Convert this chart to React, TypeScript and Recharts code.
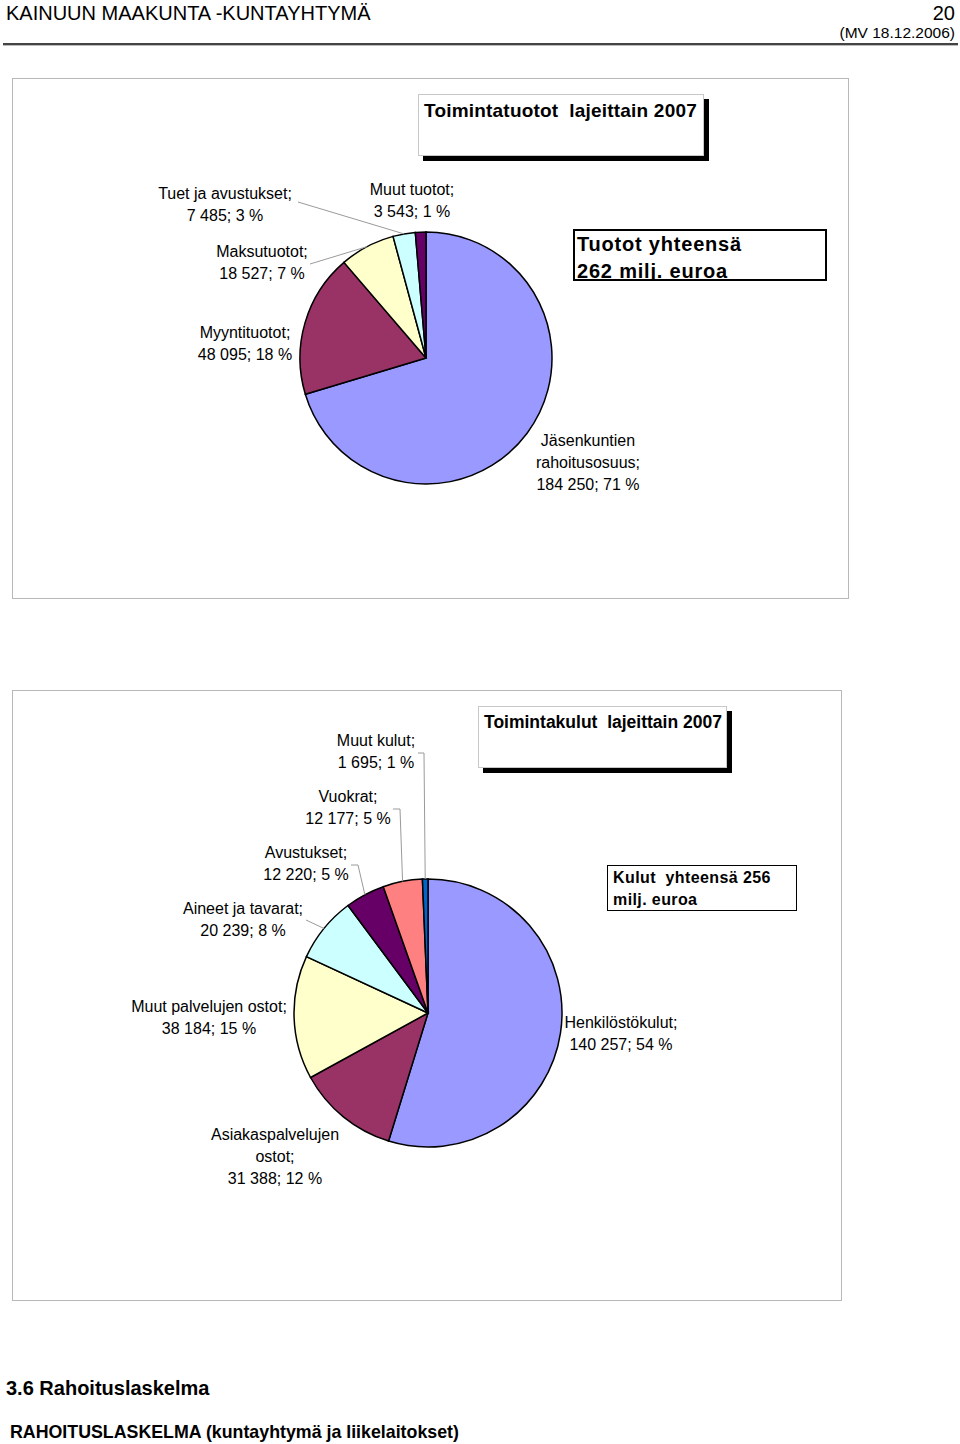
import React from 'react';
import { PieChart, Pie, Cell } from 'recharts';

// ---------- DATA ----------
const incomeNames = ['Jäsenkuntien rahoitusosuus', 'Myyntituotot', 'Maksutuotot', 'Tuet ja avustukset', 'Muut tuotot'];
const incomeNameLines = [['Jäsenkuntien', 'rahoitusosuus;'], ['Myyntituotot;'], ['Maksutuotot;'], ['Tuet ja avustukset;'], ['Muut tuotot;']];
const incomeValues = [184250, 48095, 18527, 7485, 3543];
const incomePercents = [71, 18, 7, 3, 1];
const incomeColors = ['#9999FF', '#993366', '#FFFFCC', '#CCFFFF', '#660066'];

const costNames = ['Henkilöstökulut', 'Asiakaspalvelujen ostot', 'Muut palvelujen ostot', 'Aineet ja tavarat', 'Avustukset', 'Vuokrat', 'Muut kulut'];
const costNameLines = [['Henkilöstökulut;'], ['Asiakaspalvelujen', 'ostot;'], ['Muut palvelujen ostot;'], ['Aineet ja tavarat;'], ['Avustukset;'], ['Vuokrat;'], ['Muut kulut;']];
const costValues = [140257, 31388, 38184, 20239, 12220, 12177, 1695];
const costPercents = [54, 12, 15, 8, 5, 5, 1];
const costColors = ['#9999FF', '#993366', '#FFFFCC', '#CCFFFF', '#660066', '#FF8080', '#0066CC'];

// ---------- LAYOUT (label placement, not data) ----------
type LabelPos = { x: number; y: number; leader?: number[][] };
const incomeLabelPos: LabelPos[] = [
  { x: 588, y: 440 },
  { x: 245, y: 332 },
  { x: 262, y: 251, leader: [[310, 264]] },
  { x: 225, y: 193, leader: [[298, 202]] },
  { x: 412, y: 189 },
];
const costLabelPos: LabelPos[] = [
  { x: 621, y: 1022 },
  { x: 275, y: 1134 },
  { x: 209, y: 1006 },
  { x: 243, y: 908, leader: [[306, 920]] },
  { x: 306, y: 852, leader: [[351, 865], [358, 865]] },
  { x: 348, y: 796, leader: [[393, 809], [400, 809]] },
  { x: 376, y: 740, leader: [[418, 753], [424, 753]] },
];

const FONT = '"Liberation Sans", Arial, Helvetica, sans-serif';
const fmt = (v: number) => v.toString().replace(/\B(?=(\d{3})+(?!\d))/g, ' ');

const incomeData = incomeNames.map((n, i) => ({ name: n, value: incomeValues[i] }));
const costData = costNames.map((n, i) => ({ name: n, value: costValues[i] }));

const makeLabel = (pos: LabelPos[], nameLines: string[][], values: number[], percents: number[]) => (props: any) => {
  const { cx, cy, midAngle, outerRadius, index } = props;
  const p = pos[index];
  const RAD = Math.PI / 180;
  const ax = cx + outerRadius * Math.cos(-midAngle * RAD);
  const ay = cy + outerRadius * Math.sin(-midAngle * RAD);
  const lines = [...nameLines[index], `${fmt(values[index])}; ${percents[index]} %`];
  const pts = p.leader ? [...p.leader, [ax, ay]] : null;
  return (
    <g key={`lbl-${index}`}>
      {pts && (
        <polyline points={pts.map((q) => q.join(',')).join(' ')} fill="none" stroke="#9a9a9a" strokeWidth={1} />
      )}
      {lines.map((t, k) => (
        <text key={k} x={p.x} y={p.y + k * 22} textAnchor="middle" dominantBaseline="central" fontSize={16} fontFamily={FONT} fill="#000">
          {t}
        </text>
      ))}
    </g>
  );
};

export default function App() {
  return (
    <div style={{ position: 'absolute', left: 0, top: 0, width: 960, height: 1444, background: '#fff', fontFamily: FONT, color: '#000', overflow: 'hidden' }}>
      {/* Header */}
      <div style={{ position: 'absolute', left: 6, top: 1, fontSize: 20, lineHeight: '24px' }}>KAINUUN MAAKUNTA -KUNTAYHTYMÄ</div>
      <div style={{ position: 'absolute', right: 5, top: 1, fontSize: 20, lineHeight: '24px' }}>20</div>
      <div style={{ position: 'absolute', right: 5, top: 23, fontSize: 15.5, lineHeight: '20px' }}>(MV 18.12.2006)</div>
      <div style={{ position: 'absolute', left: 3, top: 43, width: 955, height: 2, background: '#444' }} />
      <div style={{ position: 'absolute', left: 3, top: 45, width: 955, height: 1, background: '#bbb' }} />

      {/* Frames */}
      <div style={{ position: 'absolute', left: 12, top: 78, width: 835, height: 519, border: '1px solid #b8b8b8' }} />
      <div style={{ position: 'absolute', left: 12, top: 690, width: 828, height: 609, border: '1px solid #b8b8b8' }} />

      {/* Chart */}
      <div style={{ position: 'absolute', left: 0, top: 0 }}>
        <PieChart width={960} height={1444} margin={{ top: 0, right: 0, bottom: 0, left: 0 }}>
          <Pie
            data={incomeData}
            dataKey="value"
            nameKey="name"
            cx={426}
            cy={358}
            outerRadius={126}
            startAngle={90}
            endAngle={-270}
            stroke="#000"
            strokeWidth={1.5}
            isAnimationActive={false}
            labelLine={false}
            label={makeLabel(incomeLabelPos, incomeNameLines, incomeValues, incomePercents)}
          >
            {incomeData.map((_, i) => (
              <Cell key={i} fill={incomeColors[i]} stroke="#000" strokeWidth={1.5} />
            ))}
          </Pie>
          <Pie
            data={costData}
            dataKey="value"
            nameKey="name"
            cx={428}
            cy={1013}
            outerRadius={134}
            startAngle={90}
            endAngle={-270}
            stroke="#000"
            strokeWidth={1.5}
            isAnimationActive={false}
            labelLine={false}
            label={makeLabel(costLabelPos, costNameLines, costValues, costPercents)}
          >
            {costData.map((_, i) => (
              <Cell key={i} fill={costColors[i]} stroke="#000" strokeWidth={1.5} />
            ))}
          </Pie>
        </PieChart>
      </div>

      {/* Title boxes */}
      <div style={{ position: 'absolute', left: 418, top: 94, width: 284, height: 60, border: '1px solid #c8c8c8', background: '#fff', boxShadow: '5px 5px 0 #000' }}>
        <div style={{ position: 'absolute', left: 5, top: 4, fontSize: 19, fontWeight: 'bold', lineHeight: '24px', whiteSpace: 'pre', letterSpacing: 0.2 }}>Toimintatuotot  lajeittain 2007</div>
      </div>
      <div style={{ position: 'absolute', left: 573, top: 229, width: 250, height: 48, border: '2px solid #000', background: '#fff', overflow: 'hidden' }}>
        <div style={{ position: 'absolute', left: 2, top: 0, fontSize: 20, fontWeight: 'bold', lineHeight: '27px', letterSpacing: 0.8 }}>Tuotot yhteensä<br />262 milj. euroa</div>
      </div>

      <div style={{ position: 'absolute', left: 478, top: 706, width: 247, height: 60, border: '1px solid #c8c8c8', background: '#fff', boxShadow: '5px 5px 0 #000' }}>
        <div style={{ position: 'absolute', left: 5, top: 4, fontSize: 17.5, fontWeight: 'bold', lineHeight: '22px', whiteSpace: 'pre' }}>Toimintakulut  lajeittain 2007</div>
      </div>
      <div style={{ position: 'absolute', left: 607, top: 865, width: 188, height: 44, border: '1.5px solid #000', background: '#fff' }}>
        <div style={{ position: 'absolute', left: 5, top: 1, fontSize: 16, fontWeight: 'bold', lineHeight: '22px', whiteSpace: 'pre', letterSpacing: 0.4 }}>Kulut  yhteensä 256<br />milj. euroa</div>
      </div>

      {/* Footer */}
      <div style={{ position: 'absolute', left: 6, top: 1375, fontSize: 20, fontWeight: 'bold', lineHeight: '26px' }}>3.6 Rahoituslaskelma</div>
      <div style={{ position: 'absolute', left: 10, top: 1420, fontSize: 17.8, fontWeight: 'bold', lineHeight: '24px' }}>RAHOITUSLASKELMA (kuntayhtymä ja liikelaitokset)</div>
    </div>
  );
}
